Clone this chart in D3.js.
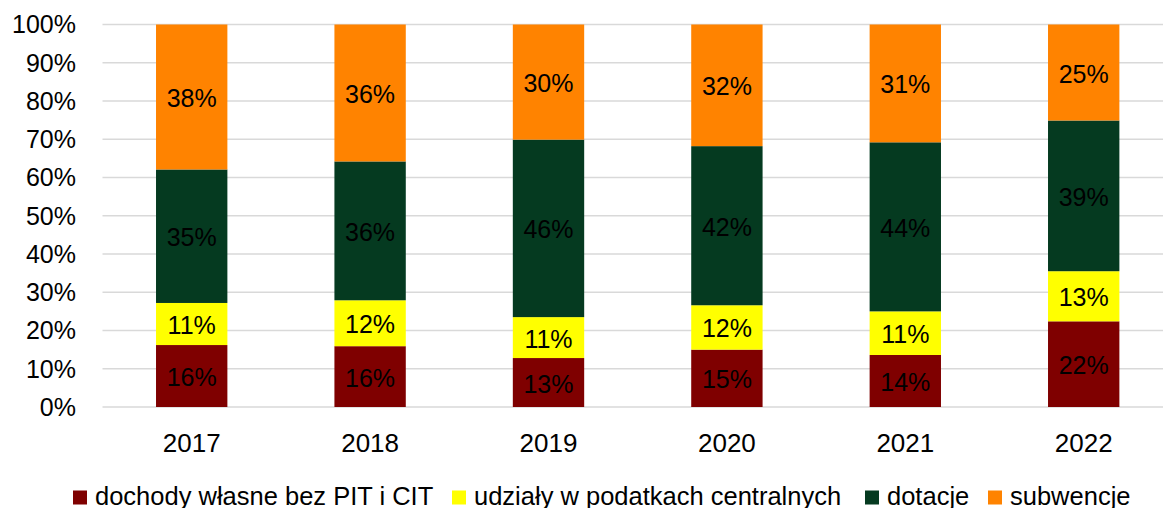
<!DOCTYPE html>
<html>
<head>
<meta charset="utf-8">
<script src="https://cdn.jsdelivr.net/npm/d3@7"></script>
<style>
  body { margin: 0; background: #fff; }
  svg { display: block; font-family: "Liberation Sans", Arial, sans-serif; }
</style>
</head>
<body>
<div id="chart"></div>
<script>
var years = ["2017", "2018", "2019", "2020", "2021", "2022"];
var seriesNames = ["dochody własne bez PIT i CIT", "udziały w podatkach centralnych", "dotacje", "subwencje"];
var seriesKeys = ["wlasne", "udzialy", "dotacje", "subwencje"];
var wlasne = [16.2, 15.9, 12.8, 15.0, 13.6, 22.4];
var udzialy = [11.0, 12.0, 10.7, 11.6, 11.4, 13.1];
var dotacje = [34.9, 36.3, 46.4, 41.6, 44.2, 39.4];
var subwencje = [37.9, 35.8, 30.1, 31.8, 30.8, 25.1];
var colors = ["#7f0000", "#ffff00", "#053a20", "#ff8300"];
var yTicks = [0, 10, 20, 30, 40, 50, 60, 70, 80, 90, 100];

var width = 1163, height = 508;
var plotLeft = 102.5, plotTop = 24.5, plotBottom = 407;
var step = 178.4;

var rows = years.map(function (y, i) {
  return { year: y, wlasne: wlasne[i], udzialy: udzialy[i], dotacje: dotacje[i], subwencje: subwencje[i] };
});

var svg = d3.select("#chart").append("svg")
  .attr("width", width)
  .attr("height", height);

var x = d3.scaleBand()
  .domain(years)
  .range([plotLeft, plotLeft + step * years.length])
  .paddingInner(0.6)
  .paddingOuter(0.3);

var y = d3.scaleLinear()
  .domain([0, 100])
  .range([plotBottom, plotTop]);

// grid
svg.append("g")
  .selectAll("line")
  .data(yTicks)
  .enter()
  .append("line")
  .attr("x1", plotLeft)
  .attr("x2", width)
  .attr("y1", function (d) { return y(d); })
  .attr("y2", function (d) { return y(d); })
  .attr("stroke", "#d9d9d9")
  .attr("stroke-width", 1.5);

// y labels
svg.append("g")
  .selectAll("text")
  .data(yTicks)
  .enter()
  .append("text")
  .attr("x", 76)
  .attr("y", function (d) { return y(d); })
  .attr("dy", "0.35em")
  .attr("text-anchor", "end")
  .attr("font-size", "25px")
  .attr("fill", "#000")
  .text(function (d) { return d + "%"; });

var stack = d3.stack().keys(seriesKeys);
var layers = stack(rows);

var layer = svg.append("g")
  .selectAll("g")
  .data(layers)
  .enter()
  .append("g")
  .attr("fill", function (d, i) { return colors[i]; });

layer.selectAll("rect")
  .data(function (d) { return d; })
  .enter()
  .append("rect")
  .attr("x", function (d) { return x(d.data.year); })
  .attr("width", x.bandwidth())
  .attr("y", function (d) { return y(d[1]); })
  .attr("height", function (d) { return y(d[0]) - y(d[1]); });

layer.selectAll("text")
  .data(function (d) { return d; })
  .enter()
  .append("text")
  .attr("x", function (d) { return x(d.data.year) + x.bandwidth() / 2; })
  .attr("y", function (d) { return y((d[0] + d[1]) / 2); })
  .attr("dy", "0.4em")
  .attr("text-anchor", "middle")
  .attr("font-size", "25px")
  .attr("fill", "#000")
  .text(function (d) { return Math.round(d[1] - d[0]) + "%"; });

// x labels
svg.append("g")
  .selectAll("text")
  .data(years)
  .enter()
  .append("text")
  .attr("x", function (d) { return x(d) + x.bandwidth() / 2; })
  .attr("y", 452)
  .attr("text-anchor", "middle")
  .attr("font-size", "26px")
  .attr("fill", "#000")
  .text(function (d) { return d; });

// legend
var legendX = [73, 452, 865, 988];
var legend = svg.append("g")
  .selectAll("g")
  .data(seriesNames)
  .enter()
  .append("g")
  .attr("transform", function (d, i) { return "translate(" + legendX[i] + ",0)"; });

legend.append("rect")
  .attr("x", 0)
  .attr("y", 490.5)
  .attr("width", 14)
  .attr("height", 14)
  .attr("fill", function (d, i) { return colors[i]; });

legend.append("text")
  .attr("x", 22)
  .attr("y", 505)
  .attr("font-size", "25.5px")
  .attr("fill", "#000")
  .text(function (d) { return d; });
</script>
</body>
</html>
